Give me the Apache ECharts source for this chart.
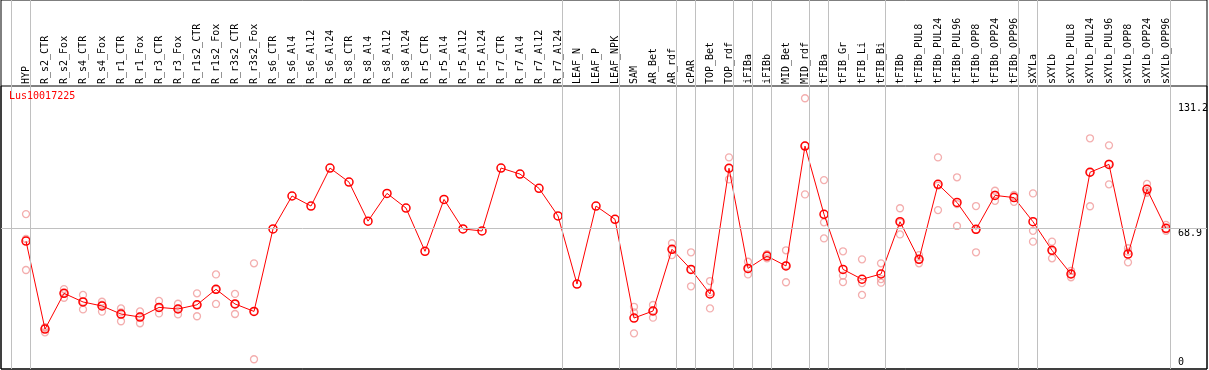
<!DOCTYPE html>
<html>
<head>
<meta charset="utf-8">
<script src="https://cdn.jsdelivr.net/npm/echarts@6/dist/echarts.min.js"></script>
<style>
html,body{margin:0;padding:0;background:#fff;overflow:hidden;}
#chart{width:1209px;height:370px;}
</style>
</head>
<body>
<div id="chart"></div>
<script>
const geneName = 'Lus10017225';

const categories = [
  'HYP','R_s2_CTR','R_s2_Fox','R_s4_CTR','R_s4_Fox','R_r1_CTR','R_r1_Fox','R_r3_CTR','R_r3_Fox',
  'R_r1s2_CTR','R_r1s2_Fox','R_r3s2_CTR','R_r3s2_Fox',
  'R_s6_CTR','R_s6_Al4','R_s6_Al12','R_s6_Al24','R_s8_CTR','R_s8_Al4','R_s8_Al12','R_s8_Al24',
  'R_r5_CTR','R_r5_Al4','R_r5_Al12','R_r5_Al24','R_r7_CTR','R_r7_Al4','R_r7_Al12','R_r7_Al24',
  'LEAF_N','LEAF_P','LEAF_NPK','SAM','AR_Bet','AR_rdf','cPAR','TOP_Bet','TOP_rdf','iFIBa','iFIBb',
  'MID_Bet','MID_rdf','tFIBa','tFIB_Gr','tFIB_Li','tFIB_Bi','tFIBb',
  'tFIBb_PUL8','tFIBb_PUL24','tFIBb_PUL96','tFIBb_OPP8','tFIBb_OPP24','tFIBb_OPP96',
  'sXYLa','sXYLb','sXYLb_PUL8','sXYLb_PUL24','sXYLb_PUL96','sXYLb_OPP8','sXYLb_OPP24','sXYLb_OPP96'
];

const means = [
  62.6, 18.8, 36.6, 32.3, 30.3, 26.3, 24.8, 29.6, 28.8,
  30.9, 38.6, 31.3, 27.6,
  68.6, 85.0, 80.0, 98.9, 91.9, 72.5, 86.3, 79.0,
  57.5, 83.3, 68.6, 67.6, 98.9, 95.9, 88.8, 75.1,
  41.2, 80.0, 73.4, 24.3, 27.8, 58.5, 48.5, 36.3, 98.8, 49.0, 55.1,
  50.2, 109.8, 75.9, 48.5, 43.6, 46.2, 72.2,
  53.5, 90.8, 81.8, 68.4, 85.3, 84.2,
  72.2, 58.0, 46.2, 96.8, 100.7, 56.1, 88.3, 68.9
];

const replicates = [
  [76.0, 63.6, 48.2], [19.8, 17.2, 19.4], [38.7, 34.4, 36.6], [35.8, 28.6, 32.5], [32.4, 27.5, 31.0],
  [29.1, 22.7, 27.1], [27.6, 21.7, 25.1], [32.8, 26.6, 29.4], [31.4, 26.1, 28.9],
  [36.6, 25.2, 30.9], [46.0, 31.3, 38.5], [36.3, 26.3, 31.3], [51.5, 3.8, 27.5],
  [], [], [], [], [], [], [], [],
  [], [], [], [], [], [], [], [],
  [], [], [], [29.9, 27.1, 16.7], [30.8, 24.5, 28.1], [61.5, 58.4, 55.6], [57.0, 40.1, 48.5],
  [42.7, 29.1, 37.1], [104.2, 93.3, 98.9], [52.3, 46.0, 48.7], [56.1, 54.0, 55.2],
  [58.0, 42.1, 50.5], [133.6, 85.8, 110.0], [92.9, 71.9, 63.9], [57.5, 45.4, 42.2],
  [53.5, 41.7, 35.8], [51.5, 43.7, 41.9], [78.9, 65.9, 71.8],
  [55.6, 51.5, 53.4], [104.2, 78.0, 90.2], [94.3, 70.1, 81.0], [80.0, 57.0, 68.2],
  [87.6, 82.6, 85.7], [85.5, 82.1, 85.0],
  [86.3, 67.7, 62.3], [62.3, 54.0, 57.7], [47.8, 44.6, 46.2], [113.7, 79.9, 96.8],
  [110.2, 90.8, 101.1], [59.0, 52.0, 57.3], [91.0, 86.6, 87.3], [70.6, 67.7, 68.4]
];

const yTickLabels = [0, 68.9, 131.2];
const referenceLine = 68.9;
// index of the last category of each group (separator drawn just after it)
const groupEnds = [-1, 0, 28, 31, 34, 35, 37, 38, 39, 41, 42, 45, 52, 53, 60];

const FONT = 'DejaVu Sans Mono';
const xMin = -25 / 19, xMax = 1181 / 19;
const sepOffset = 4.5 / 19;

const meanData = means.map((v, i) => [i, v]);
const repData = [];
replicates.forEach((arr, i) => arr.forEach(v => repData.push([i, v])));

const chart = echarts.init(document.getElementById('chart'), null, {renderer: 'canvas'});
chart.setOption({
  animation: false,
  backgroundColor: '#fff',
  title: {
    text: geneName, left: 9, top: 91, padding: 0,
    textStyle: {color: '#ff0000', fontSize: 10, fontWeight: 'normal', fontFamily: FONT}
  },
  grid: [
    {left: 1, width: 1206, top: 86, height: 283, outerBoundsMode: 'none', containLabel: false,
     show: true, borderColor: '#000', borderWidth: 1, backgroundColor: 'transparent'},
    {left: 1, width: 1206, top: 0, height: 369, outerBoundsMode: 'none', containLabel: false,
     show: true, borderColor: '#000', borderWidth: 1, backgroundColor: 'transparent'}
  ],
  xAxis: [
    {
      type: 'value', gridIndex: 0, position: 'top', min: xMin, max: xMax,
      axisLine: {show: false}, axisTick: {show: false}, splitLine: {show: false},
      axisLabel: {
        customValues: categories.map((c, i) => i),
        formatter: v => categories[Math.round(v)] || '',
        rotate: 90, margin: 2, fontSize: 10, fontFamily: FONT, color: '#000'
      }
    },
    {
      type: 'value', gridIndex: 1, min: xMin, max: xMax, show: false
    }
  ],
  yAxis: [
    {
      type: 'value', gridIndex: 0, position: 'right', min: -1.04, max: 139.7,
      axisLine: {show: false}, axisTick: {show: false}, splitLine: {show: false},
      axisLabel: {
        customValues: yTickLabels,
        inside: true, margin: 29, align: 'left', verticalAlign: 'middle',
        fontSize: 10, fontFamily: FONT, color: '#000',
        formatter: v => (v === 0 ? '{b|' + v + '}' : '{a|' + v + '}'),
        rich: {
          a: {padding: [10, 0, 0, 0], lineHeight: 12, fontSize: 10, fontFamily: FONT, color: '#000'},
          b: {padding: [0, 0, 10, 0], lineHeight: 12, fontSize: 10, fontFamily: FONT, color: '#000'}
        }
      }
    },
    {type: 'value', gridIndex: 1, min: 0, max: 1, show: false}
  ],
  series: [
    {
      type: 'scatter', xAxisIndex: 1, yAxisIndex: 1, data: [], silent: true,
      markLine: {
        silent: true, symbol: 'none', animation: false,
        label: {show: false},
        lineStyle: {color: '#c0c0c0', width: 1, type: 'solid'},
        data: groupEnds.map(i => ({xAxis: i + sepOffset}))
      }
    },
    {
      name: 'replicates', type: 'scatter', xAxisIndex: 0, yAxisIndex: 0, data: repData,
      symbol: 'circle', symbolSize: 7, z: 2,
      itemStyle: {color: 'rgba(255,255,255,0)', borderColor: '#f09a9a', borderWidth: 1.3},
      markLine: {
        silent: true, symbol: 'none', animation: false,
        label: {show: false},
        lineStyle: {color: '#c0c0c0', width: 1, type: 'solid'},
        data: [{yAxis: referenceLine}]
      }
    },
    {
      name: 'mean', type: 'line', xAxisIndex: 0, yAxisIndex: 0, data: meanData,
      symbol: 'circle', symbolSize: 8, showAllSymbol: true, z: 3,
      lineStyle: {color: '#ff0000', width: 1},
      itemStyle: {color: 'rgba(255,255,255,0)', borderColor: '#ff0000', borderWidth: 1.5}
    }
  ]
});
</script>
</body>
</html>
